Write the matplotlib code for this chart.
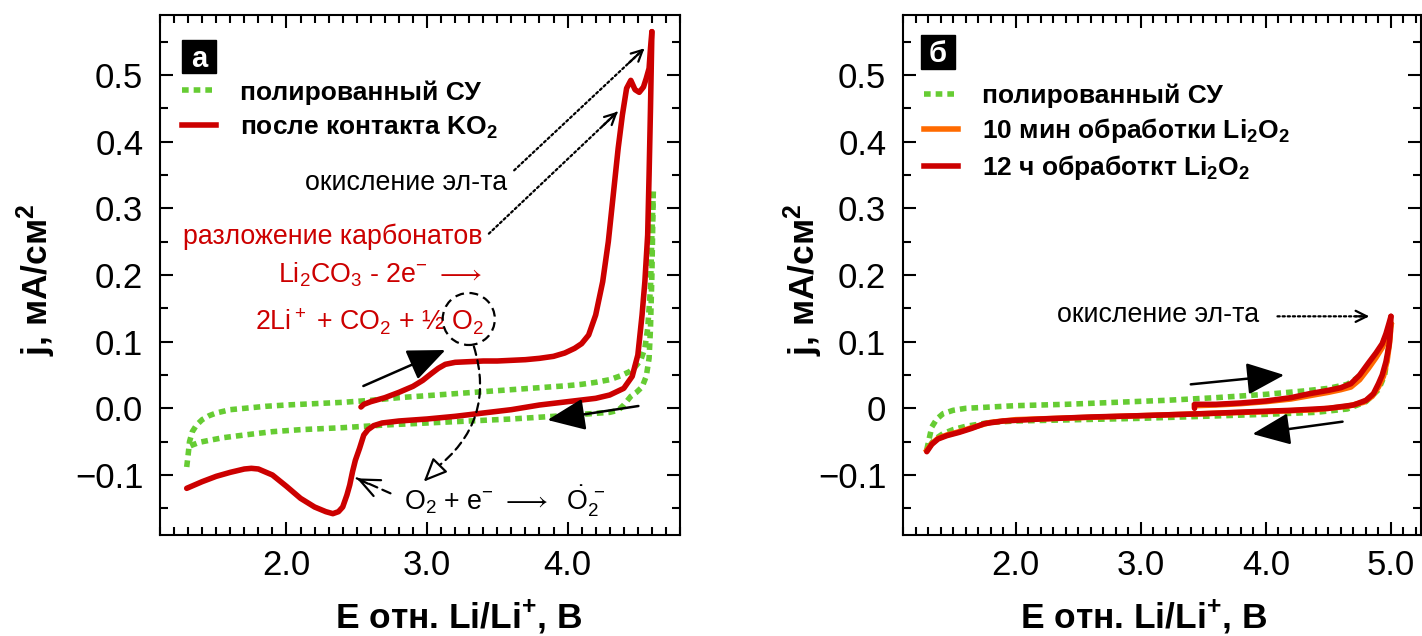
import matplotlib
matplotlib.use("Agg")
import matplotlib.pyplot as plt
from matplotlib.lines import Line2D
from matplotlib.patches import Ellipse, Rectangle
from matplotlib.ticker import FixedLocator, MultipleLocator, FuncFormatter

plt.rcParams['font.family'] = ['Liberation Sans', 'DejaVu Sans']
plt.rcParams['mathtext.fontset'] = 'custom'
plt.rcParams['mathtext.rm'] = 'Liberation Sans'
plt.rcParams['mathtext.it'] = 'Liberation Sans:italic'
plt.rcParams['mathtext.bf'] = 'Liberation Sans:bold'

GREEN = '#66cc33'
RED = '#cc0000'
ORANGE = '#ff6a00'

# ---------------- panel a data ----------------
gp_fwd_x = [1.29, 1.30, 1.31, 1.33, 1.36, 1.40, 1.45, 1.50, 1.60, 1.70, 1.85, 2.00, 2.20, 2.40, 2.60, 2.80,
            3.00, 3.20, 3.40, 3.60, 3.80, 4.00, 4.10, 4.20, 4.30, 4.38, 4.44, 4.48, 4.52, 4.55, 4.57, 4.59,
            4.60, 4.61]
gp_fwd_y = [-0.088, -0.070, -0.050, -0.035, -0.025, -0.017, -0.011, -0.007, -0.002, 0.000, 0.003, 0.005,
            0.007, 0.009, 0.012, 0.016, 0.019, 0.022, 0.025, 0.028, 0.031, 0.034, 0.036, 0.039, 0.043, 0.049,
            0.055, 0.062, 0.072, 0.090, 0.120, 0.180, 0.260, 0.325]
gp_rev_x = [4.61, 4.60, 4.59, 4.58, 4.56, 4.53, 4.49, 4.45, 4.40, 4.36, 4.30, 4.10, 3.90, 3.60, 3.30, 3.00,
            2.70, 2.40, 2.10, 1.90, 1.70, 1.55, 1.45, 1.38, 1.33, 1.30]
gp_rev_y = [0.325, 0.200, 0.120, 0.075, 0.048, 0.032, 0.024, 0.018, 0.005, -0.003, -0.006, -0.009, -0.012,
            -0.016, -0.019, -0.022, -0.025, -0.029, -0.032, -0.035, -0.040, -0.044, -0.048, -0.051, -0.055,
            -0.058]

r_fwd_x = [2.53, 2.55, 2.60, 2.70, 2.80, 2.90, 2.97, 3.03, 3.08, 3.13, 3.20, 3.30, 3.40, 3.50, 3.60, 3.70,
           3.80, 3.90, 3.98, 4.05, 4.10, 4.15, 4.20, 4.25, 4.29, 4.33, 4.36, 4.39, 4.42, 4.45, 4.48, 4.51,
           4.54, 4.56, 4.58, 4.59, 4.60]
r_fwd_y = [0.002, 0.006, 0.010, 0.016, 0.024, 0.033, 0.042, 0.052, 0.060, 0.066, 0.069, 0.070, 0.071, 0.071,
           0.072, 0.073, 0.075, 0.078, 0.083, 0.090, 0.097, 0.110, 0.140, 0.190, 0.250, 0.330, 0.390, 0.440,
           0.480, 0.492, 0.478, 0.474, 0.482, 0.495, 0.510, 0.540, 0.565]
r_rev_x = [4.60, 4.59, 4.58, 4.57, 4.55, 4.53, 4.50, 4.46, 4.40, 4.30, 4.20, 4.00, 3.80, 3.60, 3.40, 3.20,
           3.00, 2.80, 2.68, 2.62, 2.58, 2.55, 2.52, 2.49, 2.47, 2.45, 2.43, 2.40, 2.37, 2.33, 2.28, 2.20,
           2.10, 2.00, 1.90, 1.80, 1.75, 1.70, 1.60, 1.50, 1.40, 1.29]
r_rev_y = [0.565, 0.450, 0.350, 0.260, 0.190, 0.140, 0.080, 0.048, 0.030, 0.020, 0.015, 0.010, 0.005, -0.002,
           -0.007, -0.012, -0.016, -0.019, -0.022, -0.026, -0.032, -0.040, -0.060, -0.078, -0.095, -0.115,
           -0.130, -0.148, -0.155, -0.158, -0.155, -0.148, -0.135, -0.117, -0.100, -0.091, -0.090, -0.091,
           -0.096, -0.102, -0.110, -0.120]

# ---------------- panel б data ----------------
gb_fwd_x = [1.29, 1.31, 1.33, 1.37, 1.42, 1.50, 1.60, 1.80, 2.00, 2.40, 2.80, 3.20, 3.60, 4.00, 4.30, 4.50,
            4.65, 4.75, 4.85, 4.93, 5.00]
gb_fwd_y = [-0.062, -0.045, -0.028, -0.016, -0.008, -0.003, 0.000, 0.002, 0.004, 0.006, 0.009, 0.012, 0.016,
            0.021, 0.026, 0.030, 0.036, 0.048, 0.070, 0.095, 0.130]
gb_rev_x = [5.00, 4.98, 4.95, 4.90, 4.80, 4.65, 4.40, 4.00, 3.50, 3.00, 2.50, 2.00, 1.80, 1.60, 1.50, 1.42,
            1.35, 1.29]
gb_rev_y = [0.130, 0.090, 0.050, 0.028, 0.010, -0.001, -0.006, -0.009, -0.012, -0.015, -0.017, -0.019, -0.021,
            -0.027, -0.032, -0.038, -0.047, -0.062]

ob_fwd_x = [3.43, 3.60, 3.80, 4.00, 4.20, 4.35, 4.50, 4.60, 4.68, 4.75, 4.82, 4.88, 4.93, 4.97, 5.00]
ob_fwd_y = [0.004, 0.005, 0.007, 0.010, 0.014, 0.019, 0.024, 0.028, 0.032, 0.043, 0.060, 0.076, 0.091, 0.108,
            0.125]
ob_rev_x = [5.00, 4.99, 4.97, 4.94, 4.90, 4.85, 4.78, 4.65, 4.40, 4.00, 3.50, 3.00, 2.50, 2.00, 1.80, 1.65,
            1.55, 1.45, 1.38, 1.33, 1.29]
ob_rev_y = [0.125, 0.100, 0.072, 0.048, 0.032, 0.018, 0.009, 0.003, -0.002, -0.005, -0.008, -0.011, -0.014,
            -0.017, -0.021, -0.029, -0.035, -0.040, -0.045, -0.053, -0.063]

rb_fwd_x = [3.43, 3.43, 3.60, 3.80, 4.00, 4.20, 4.35, 4.50, 4.60, 4.68, 4.75, 4.82, 4.88, 4.93, 4.96, 4.985,
            5.00]
rb_fwd_y = [0.000, 0.006, 0.006, 0.008, 0.011, 0.016, 0.022, 0.027, 0.031, 0.037, 0.050, 0.068, 0.083, 0.097,
            0.112, 0.128, 0.138]
rb_rev_x = [5.00, 4.995, 4.985, 4.96, 4.93, 4.90, 4.86, 4.80, 4.70, 4.50, 4.20, 3.90, 3.50, 3.00, 2.60, 2.20,
            1.90, 1.75, 1.65, 1.55, 1.45, 1.38, 1.33, 1.29]
rb_rev_y = [0.138, 0.115, 0.095, 0.070, 0.050, 0.037, 0.022, 0.012, 0.005, 0.000, -0.003, -0.005, -0.008,
            -0.011, -0.013, -0.016, -0.019, -0.023, -0.030, -0.036, -0.041, -0.046, -0.054, -0.065]

legend_a = ["полированный СУ", r"после контакта KO$_\mathbf{2}$"]
legend_b = ["полированный СУ", r"10 мин обработки Li$_\mathbf{2}$O$_\mathbf{2}$",
            r"12 ч обработкт Li$_\mathbf{2}$O$_\mathbf{2}$"]
xticks_a = [2.0, 3.0, 4.0]
xticks_b = [2.0, 3.0, 4.0, 5.0]
yticks = [-0.1, 0.0, 0.1, 0.2, 0.3, 0.4, 0.5]

W, H = 1422, 636
fig = plt.figure(figsize=(W / 100, H / 100), dpi=100)
ax1 = fig.add_axes([160 / W, 1 - 535 / H, 520 / W, 520 / H])
ax2 = fig.add_axes([903 / W, 1 - 535 / H, 518 / W, 520 / H])

LW = 4.0
DOT = (0, (1.2, 0.9))
ANN = 19.3


def style(ax, xlim, xticks, zero_label):
    ax.set_xlim(*xlim)
    ax.set_ylim(-0.19, 0.59)
    ax.xaxis.set_major_locator(FixedLocator(xticks))
    ax.xaxis.set_minor_locator(MultipleLocator(0.1))
    ax.yaxis.set_major_locator(FixedLocator(yticks))
    ax.yaxis.set_minor_locator(MultipleLocator(0.05))
    ax.xaxis.set_major_formatter(FuncFormatter(lambda v, p: f"{v:.1f}"))

    def yf(v, p):
        if abs(v) < 1e-9:
            return zero_label
        return f"{v:.1f}".replace("-", "\u2212")
    ax.yaxis.set_major_formatter(FuncFormatter(yf))
    ax.tick_params(which='both', direction='in', top=True, right=True, width=1.5, labelsize=25)
    ax.tick_params(which='major', length=9.5)
    ax.tick_params(which='minor', length=5.5)
    ax.tick_params(axis='y', pad=12)
    ax.tick_params(axis='x', pad=10)
    for s in ax.spines.values():
        s.set_linewidth(1.5)


style(ax1, (1.1, 4.8), xticks_a, "0.0")
style(ax2, (1.1, 5.24), xticks_b, "0")

# ---- panel a curves
ax1.plot(gp_fwd_x, gp_fwd_y, color=GREEN, lw=LW, ls=DOT, zorder=2)
ax1.plot(gp_rev_x, gp_rev_y, color=GREEN, lw=LW, ls=DOT, zorder=2)
ax1.plot(r_fwd_x, r_fwd_y, color=RED, lw=LW, zorder=3, solid_capstyle='round', solid_joinstyle='round')
ax1.plot(r_rev_x, r_rev_y, color=RED, lw=LW, zorder=3, solid_capstyle='round', solid_joinstyle='round')

# ---- panel b curves
ax2.plot(gb_fwd_x, gb_fwd_y, color=GREEN, lw=LW, ls=DOT, zorder=2)
ax2.plot(gb_rev_x, gb_rev_y, color=GREEN, lw=LW, ls=DOT, zorder=2)
ax2.plot(ob_fwd_x, ob_fwd_y, color=ORANGE, lw=LW, zorder=3, solid_joinstyle='round')
ax2.plot(ob_rev_x, ob_rev_y, color=ORANGE, lw=LW, zorder=3, solid_joinstyle='round')
ax2.plot(rb_fwd_x, rb_fwd_y, color=RED, lw=LW, zorder=4, solid_capstyle='round', solid_joinstyle='round')
ax2.plot(rb_rev_x, rb_rev_y, color=RED, lw=LW, zorder=4, solid_capstyle='round', solid_joinstyle='round')

# ---- legends
h_green = Line2D([], [], color=GREEN, lw=LW, ls=DOT)
h_red = Line2D([], [], color=RED, lw=LW)
h_orange = Line2D([], [], color=ORANGE, lw=LW)
leg_kw = dict(frameon=False, prop={'weight': 'bold', 'size': 19}, handlelength=1.3,
              handletextpad=0.9, borderaxespad=0, loc='upper left')
ax1.legend([h_green, h_red], legend_a, bbox_to_anchor=(0.022, 0.895), labelspacing=0.38, **leg_kw)
ax2.legend([h_green, h_orange, h_red], legend_b, bbox_to_anchor=(0.02, 0.888), labelspacing=0.3, **leg_kw)

# ---- panel labels
for ax, lab, box in [(ax1, "а", (0.0423, 0.8885, 0.0654, 0.0635)),
                     (ax2, "б", (0.0347, 0.896, 0.0657, 0.0655))]:
    ax.add_patch(Rectangle(box[:2], box[2], box[3], transform=ax.transAxes, color='black',
                           zorder=5, clip_on=False))
    ax.text(box[0] + box[2] / 2, box[1] + box[3] / 2 - 0.004, lab, transform=ax.transAxes, color='white',
            fontsize=21, fontweight='bold', ha='center', va='center', zorder=6)

# ---- axis labels
for xc in (459, 1144):
    fig.text(xc / W, 8 / H, r"E отн. Li/Li$^\mathbf{+}$, В", fontsize=25.5, fontweight='bold',
             ha='center', va='baseline')
for xc in (36, 803):
    fig.text(xc / W, 1 - 280 / H, r"j, мА/см$^\mathbf{2}$", fontsize=25.5, fontweight='bold',
             ha='center', va='center', rotation=90)


def dotted_arrow(ax, tail, head, frac=0.12):
    ax.annotate("", xy=head, xytext=tail, arrowprops=dict(arrowstyle='-', lw=1.6, ls=(0, (1, 1.3)),
                                                            color='black', shrinkA=0, shrinkB=0))
    pre = (head[0] - (head[0] - tail[0]) * frac, head[1] - (head[1] - tail[1]) * frac)
    ax.annotate("", xy=head, xytext=pre, arrowprops=dict(arrowstyle='->, head_length=0.8, head_width=0.4',
                                                           lw=1.6, color='black', shrinkA=0, shrinkB=0))


def solid_arrow(ax, tail, head):
    ax.annotate("", xy=head, xytext=tail,
                arrowprops=dict(arrowstyle='-|>, head_length=1.3, head_width=0.55', lw=1.8, color='black',
                                mutation_scale=18, shrinkA=0, shrinkB=0))


# ---- panel a annotations
ax1.text(3.571, 0.338, "окисление эл-та", fontsize=ANN, ha='right', va='center')
dotted_arrow(ax1, (3.62, 0.357), (4.547, 0.540))
ax1.text(3.393, 0.258, "разложение карбонатов", fontsize=ANN, ha='right', va='center', color=RED)
dotted_arrow(ax1, (3.44, 0.262), (4.357, 0.445))
ax1.text(3.39, 0.200, r"Li$_2$CO$_3$ - 2e$^{-}$ $\longrightarrow$", fontsize=ANN, ha='right', va='center',
         color=RED)
ax1.text(3.40, 0.130, r"2Li$^+$ + CO$_2$ + ½ O$_2$", fontsize=ANN, ha='right', va='center', color=RED)
ax1.add_patch(Ellipse((3.297, 0.134), width=0.371, height=0.078, fill=False, ls=(0, (4, 2.5)), lw=1.6,
                      color='black', zorder=5))
ax1.annotate("", xy=(3.05, -0.092), xytext=(3.333, 0.093),
             arrowprops=dict(arrowstyle='-', ls=(0, (4, 2.5)), lw=1.6, color='black',
                             connectionstyle='arc3,rad=-0.35', shrinkA=0, shrinkB=0))
ax1.annotate("", xy=(2.976, -0.11), xytext=(3.06, -0.092),
             arrowprops=dict(arrowstyle='-|>, head_length=0.8, head_width=0.35', lw=1.6, fc='white',
                             ec='black', mutation_scale=18, shrinkA=0, shrinkB=0))
ax1.text(2.833, -0.14, r"O$_2$ + e$^{-}$ $\longrightarrow$  $\dot{\mathrm{O}}_2^{\,-}$", fontsize=ANN,
         ha='left', va='center')
ax1.annotate("", xy=(2.5, -0.105), xytext=(2.74, -0.1275),
             arrowprops=dict(arrowstyle='-', ls=(0, (4, 2.5)), lw=1.6, color='black', shrinkA=0, shrinkB=0))
ax1.annotate("", xy=(2.5, -0.105), xytext=(2.58, -0.113),
             arrowprops=dict(arrowstyle='->, head_length=0.8, head_width=0.35', lw=1.6, color='black',
                             mutation_scale=18, shrinkA=0, shrinkB=0))
solid_arrow(ax1, (2.547, 0.0335), (3.131, 0.0875))
solid_arrow(ax1, (4.504, 0.0035), (3.857, -0.0175))

# ---- panel b annotations
ax2.text(3.947, 0.14, "окисление эл-та", fontsize=ANN, ha='right', va='center')
dotted_arrow(ax2, (4.093, 0.138), (4.826, 0.138), frac=0.15)
solid_arrow(ax2, (3.40, 0.036), (4.147, 0.050))
solid_arrow(ax2, (4.613, -0.02), (3.893, -0.0385))

fig.savefig("out.png", dpi=100)
